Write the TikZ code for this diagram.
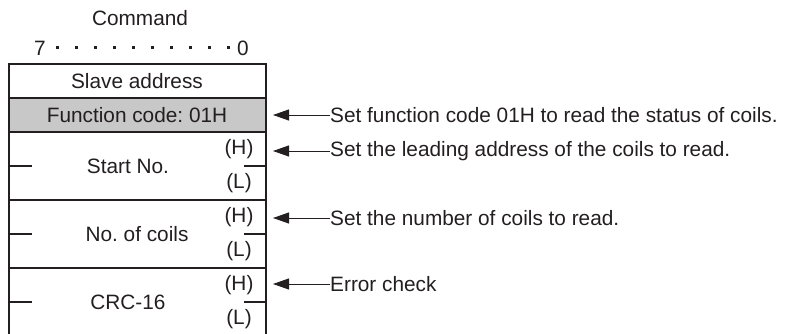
\documentclass[tikz,border=0pt]{standalone}
\usepackage{fontspec}
\setmainfont{Liberation Sans}
\usetikzlibrary{arrows.meta}
\definecolor{ink}{HTML}{231F20}
\definecolor{fcgray}{HTML}{C8C8C8}
\frenchspacing
\begin{document}
\begin{tikzpicture}[x=1pt,y=-1pt,
  txt/.style={inner sep=0pt,font=\fontsize{20.8}{22}\selectfont,text=ink},
  rowbox/.style={draw=ink,line width=1.1pt},
  tick/.style={draw=ink,line width=1.1pt},
  note/.style={draw=ink,line width=0.9pt,{Triangle[length=16pt,width=11pt]}-},
  bitdot/.style={fill=ink,minimum size=3pt,inner sep=0pt}]
\useasboundingbox (0,0) rectangle (793,334);
% header
\node[txt] (cmd) at (140,18) {Command};
\node[txt] (b7) at (40,48) {7};
\node[txt] (b0) at (243,48) {0};
\foreach \i in {0,...,9} {\node[bitdot] (d\i) at (57+\i*19,48) {};}
% rows
\fill[fcgray] (9,98) rectangle (266,132);
\draw[rowbox] (9,64) rectangle (266,98);
\draw[rowbox] (9,98) rectangle (266,132);
\draw[rowbox] (9,132) rectangle (266,200);
\draw[rowbox] (9,200) rectangle (266,268);
\draw[rowbox] (9,268) -- (9,340) (266,268) -- (266,340) (9,268) -- (266,268);
% row labels
\node[txt] (sa) at (137,81) {Slave address};
\node[txt] (fc) at (137,115) {Function code: 01H};
\node[txt] (sn) at (128,166) {Start No.};
\node[txt] (nc) at (137,234) {No. of coils};
\node[txt] (crc) at (128,302) {CRC-16};
% H / L and ticks
\foreach \t/\n in {132/s,200/n,268/c} {
  \node[txt] (h\n) at (239,\t+17) {(H)};
  \node[txt] (l\n) at (239,\t+51) {(L)};
  \draw[tick] (9,\t+34) -- (32,\t+34);
  \draw[tick] (244,\t+34) -- (266,\t+34);
}
% notes
\node[txt,anchor=west] (n1) at (330,115) {Set function code 01H to read the status of coils.};
\node[txt,anchor=west] (n2) at (330,151) {Set the leading address of the coils to read.};
\node[txt,anchor=west] (n3) at (330,218) {Set the number of coils to read.};
\node[txt,anchor=west] (n4) at (330,284) {Error check};
\coordinate (a1) at (273,115);
\coordinate (a2) at (273,151);
\coordinate (a3) at (273,218);
\coordinate (a4) at (273,284);
\draw[note] (a1) -- (n1.west);
\draw[note] (a2) -- (n2.west);
\draw[note] (a3) -- (n3.west);
\draw[note] (a4) -- (n4.west);
\end{tikzpicture}
\end{document}
